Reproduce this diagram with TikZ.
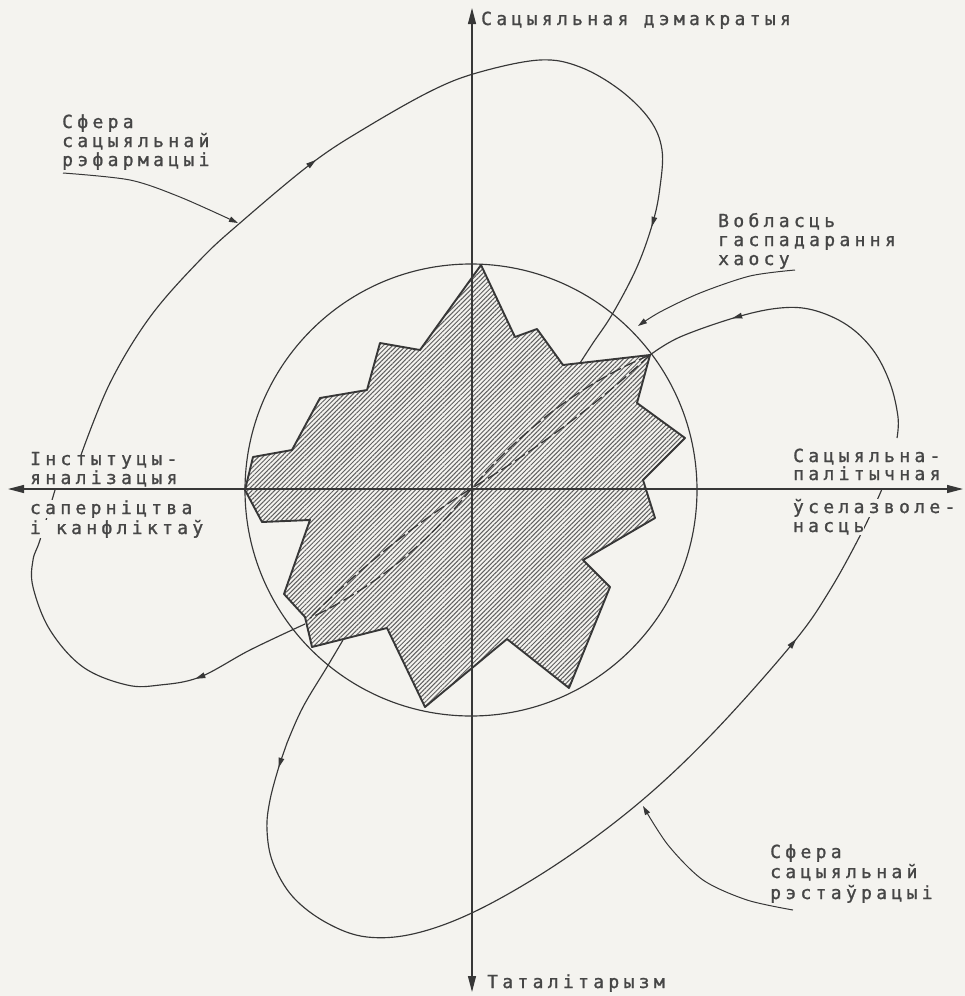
\documentclass[tikz,border=0pt]{standalone}
\usepackage{fontspec}
\newfontfamily\lblfont{DejaVu Sans Mono}[LetterSpace=24,FakeBold=1.2]
\usetikzlibrary{arrows.meta,patterns.meta}
\definecolor{bgc}{RGB}{244,243,239}
\definecolor{ink}{RGB}{55,55,55}
\definecolor{txt}{RGB}{70,70,70}
\newcommand{\midtri}[2]{\fill[ink,shift={#1},rotate=#2] (5,0) -- (-5,3) -- (-5,-3) -- cycle;}
\begin{document}
\begin{tikzpicture}[x=1pt,y=-1pt,
  lbl/.style={anchor=base west, inner sep=0pt, text=txt, font=\lblfont\fontsize{18}{19}\selectfont},
  lblf/.style={lbl, fill=bgc, outer sep=0pt},
  curve/.style={draw=ink, line width=1.15pt},
  axisline/.style={draw=ink, line width=1.2pt, {Triangle[length=16pt,width=8pt]}-{Triangle[length=16pt,width=8pt]}},
  pointer/.style={draw=ink, line width=1.0pt, -{Triangle[length=9pt,width=5.5pt]}},
  lens/.style={draw=ink, line width=1.3pt, dash pattern=on 12pt off 4pt},
]
\useasboundingbox (0,0) rectangle (965,996);
\fill[bgc] (0,0) rectangle (965,996);

% axes
\coordinate (L) at (8,489);
\coordinate (R) at (963,489);
\coordinate (T) at (472,8);
\coordinate (B) at (472,992);
\coordinate (O) at (471,490);

% star
\draw[ink, line width=1.9pt, line join=round,
  pattern={Lines[angle=45,distance=3.2pt,line width=1pt]}, pattern color=ink!80]
  (481,265) -- (515,337) -- (537,329) -- (563,365) -- (650,355) -- (637,403)
  -- (685,438) -- (643,480) -- (655,518) -- (583,560) -- (610,587) -- (569,688)
  -- (507,639) -- (425,707) -- (387,628) -- (312,647) -- (305,617) -- (284,594)
  -- (310,520) -- (262,522) -- (245,490) -- (253,457) -- (292,450) -- (320,398)
  -- (367,390) -- (380,343) -- (420,350) -- cycle;

\draw[axisline] (L) -- (R);
\draw[axisline] (B) -- (T);

% circle
\draw[curve] (O) circle[radius=226];

% dashed lens
\coordinate (tipA) at (650,355);
\coordinate (tipB) at (310,618);
\coordinate (mid) at (472,488);
\draw[lens] (tipA) .. controls (580,384) and (521,431) .. (mid) .. controls (428,543) and (374,588) .. (tipB);
\draw[lens] (tipA) .. controls (596,405) and (536,450) .. (mid) .. controls (413,525) and (359,569) .. (tipB);

% loops
\draw[curve] plot[smooth, tension=0.6] coordinates {(81,455) (110,383) (150,317) (200,260) (240,223) (312,163) (367,127) (433,90) (480,72) (540,60) (580,67) (620,90) (650,120) (662,150) (660,187) (653,222) (637,267) (613,313) (593,343) (580,363)};
\midtri{(312,163)}{37}
\midtri{(653,222)}{-106}

\draw[curve] plot[smooth, tension=0.6] coordinates {(897,438) (898,417) (890,383) (873,350) (847,325) (813,310) (780,308) (737,317) (680,337) (650,355)};
\midtri{(737,317)}{196}

\draw[curve] plot[smooth, tension=0.6] coordinates {(305,624) (250,650) (200,677) (160,685) (127,685) (83,667) (50,630) (33,587) (33,560) (40,540) (55,490)};
\midtri{(200,677)}{201}

\draw[curve] plot[smooth, tension=0.6] coordinates {(343,640) (327,667) (303,707) (287,743) (280,763) (270,800) (267,830) (273,863) (293,897) (327,923) (367,937) (417,933) (480,909) (560,862) (640,802) (713,733) (793,643) (830,590) (863,530) (882,489)};
\midtri{(280,763)}{-107}
\midtri{(793,643)}{51}

% pointers
\draw[pointer] plot[smooth] coordinates {(63,173) (130,180) (180,197) (238,223)};
\draw[pointer] plot[smooth] coordinates {(795,270) (750,276) (700,293) (660,312) (638,326)};
\draw[pointer] plot[smooth] coordinates {(793,910) (747,900) (703,880) (668,845) (643,806)};

% labels
\node[lbl] (top) at (481,25) {Сацыяльная дэмакратыя};
\node[lbl] (bot) at (487,988) {Таталітарызм};

\node[lbl] (ref1) at (62,128) {Сфера};
\node[lbl] (ref2) at (62,147) {сацыяльнай};
\node[lbl] (ref3) at (62,166) {рэфармацыі};

\node[lbl] (ch1) at (718,227) {Вобласць};
\node[lbl] (ch2) at (718,246) {гаспадарання};
\node[lbl] (ch3) at (718,265) {хаосу};

\node[lbl] (in1) at (30,465) {Інстытуцы-};
\node[lbl] (in2) at (30,484) {яналізацыя};
\node[lblf] (in3) at (30,514) {саперніцтва};
\node[lblf] (in4) at (30,534) {і канфліктаў};

\node[lbl] (sp1) at (793,462) {Сацыяльна-};
\node[lbl] (sp2) at (793,480) {палітычная};
\node[lblf] (sp3) at (793,513) {ўселазволе-};
\node[lblf] (sp4) at (793,532) {насць};

\node[lbl] (rs1) at (770,858) {Сфера};
\node[lbl] (rs2) at (770,878) {сацыяльнай};
\node[lbl] (rs3) at (770,899) {рэстаўрацыі};
\end{tikzpicture}
\end{document}
